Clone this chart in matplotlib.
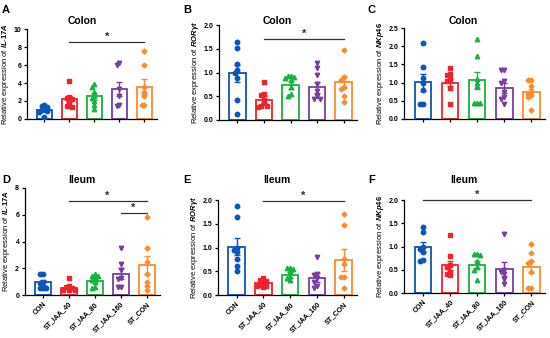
import numpy as np
import matplotlib
matplotlib.use('Agg')
import matplotlib.pyplot as plt

plt.rcParams['font.family'] = ['Liberation Sans', 'DejaVu Sans']
plt.rcParams['font.weight'] = 'bold'
plt.rcParams['mathtext.fontset'] = 'custom'
plt.rcParams['mathtext.it'] = 'Liberation Sans:italic:bold'
plt.rcParams['mathtext.rm'] = 'Liberation Sans:bold'

groups = ['CON', 'ST_IAA_40', 'ST_IAA_80', 'ST_IAA_160', 'ST_CON']
colors = ['#0B55BE', '#F2222C', '#17B23F', '#7A3D9F', '#FF8A2B']
markers = ['o', 's', '^', 'v', 'D']

# Panel A: colon IL-17A
a_pts = [[1.4, 1.3, 1.5, 0.9, 1.0, 0.8, 0.2, 1.1],
         [4.2, 2.4, 2.2, 2.0, 1.5, 1.4, 1.3, 2.3],
         [3.9, 3.6, 3.0, 2.6, 2.3, 2.0, 1.5, 1.1],
         [6.2, 6.0, 3.3, 2.6, 1.5, 1.4],
         [7.6, 6.0, 3.6, 3.0, 2.6, 1.6, 1.5]]
a_mean = [1.0, 2.2, 2.5, 3.35, 3.6]
a_sem = [0.15, 0.3, 0.35, 0.8, 0.8]

# Panel B: colon RORgt
b_pts = [[1.64, 1.52, 1.17, 1.05, 1.0, 0.88, 0.42, 0.13],
         [0.8, 0.55, 0.52, 0.42, 0.35, 0.3, 0.28, 0.3],
         [0.93, 0.92, 0.9, 0.88, 0.85, 0.7, 0.55, 0.5],
         [1.2, 1.1, 0.95, 0.75, 0.6, 0.5, 0.45, 0.45],
         [1.47, 0.9, 0.85, 0.7, 0.65, 0.5, 0.37]]
b_mean = [0.98, 0.43, 0.74, 0.69, 0.8]
b_sem = [0.17, 0.08, 0.08, 0.12, 0.13]

# Panel C: colon NKp46
c_pts = [[2.08, 1.42, 1.12, 0.8, 0.42, 0.42, 1.0],
         [1.4, 1.25, 1.22, 1.1, 1.05, 0.85, 0.42],
         [2.2, 1.73, 1.1, 0.9, 0.45, 0.45, 0.45, 1.0],
         [1.35, 1.35, 1.05, 1.0, 0.75, 0.55, 0.42, 0.6],
         [1.07, 1.07, 0.92, 0.75, 0.7, 0.6, 0.25, 0.65]]
c_mean = [1.01, 1.0, 1.06, 0.85, 0.73]
c_sem = [0.24, 0.1, 0.24, 0.13, 0.1]

# Panel D: ileum IL-17A
d_pts = [[1.6, 1.55, 1.0, 0.9, 0.55, 0.5, 0.55],
         [1.3, 0.7, 0.6, 0.5, 0.4, 0.35, 0.4],
         [1.6, 1.45, 1.4, 1.3, 1.1, 0.95, 0.5, 0.6],
         [3.55, 2.35, 1.9, 1.3, 1.2, 0.6, 0.6],
         [5.8, 3.5, 2.5, 1.6, 1.0, 0.7, 0.4]]
d_mean = [0.95, 0.55, 1.07, 1.6, 2.25]
d_sem = [0.17, 0.1, 0.12, 0.4, 0.65]

# Panel E: ileum RORgt
e_pts = [[1.87, 1.64, 1.0, 0.95, 0.9, 0.75, 0.62, 0.5],
         [0.35, 0.32, 0.3, 0.25, 0.22, 0.2, 0.18, 0.2],
         [0.58, 0.58, 0.55, 0.5, 0.4, 0.35, 0.32],
         [0.8, 0.45, 0.42, 0.35, 0.28, 0.2, 0.15],
         [1.7, 1.47, 0.75, 0.65, 0.38, 0.38, 0.15]]
e_mean = [1.02, 0.25, 0.42, 0.37, 0.74]
e_sem = [0.18, 0.04, 0.06, 0.09, 0.23]

# Panel F: ileum NKp46
f_pts = [[1.43, 1.32, 1.0, 0.95, 0.88, 0.72, 0.7],
         [1.24, 0.8, 0.6, 0.55, 0.45, 0.4, 0.38],
         [0.85, 0.85, 0.82, 0.7, 0.55, 0.5, 0.28],
         [1.26, 0.5, 0.45, 0.4, 0.3, 0.2],
         [1.05, 0.87, 0.7, 0.65, 0.45, 0.1, 0.1]]
f_mean = [0.99, 0.6, 0.61, 0.52, 0.56]
f_sem = [0.11, 0.1, 0.07, 0.15, 0.13]


def swarm_offsets(vals, tol, step=0.11):
    # simple deterministic spread for points with close values
    vals = np.asarray(vals, dtype=float)
    order = np.argsort(-vals)
    offs = np.zeros(len(vals))
    placed = []
    for i in order:
        near = [j for j in placed if abs(vals[j] - vals[i]) < tol]
        cands = [0.0, -step, step, -2 * step, 2 * step, -1.5 * step, 1.5 * step]
        for c in cands:
            if all(abs(offs[j] - c) > step * 0.9 for j in near):
                offs[i] = c
                break
        placed.append(i)
    return offs


def panel(rect, pts, means, sems, ymax, ystep, gene, title, title_y, letter, letter_xy, sigs, labels):
    ax = fig.add_axes(rect)
    x = np.arange(len(groups))
    for i in range(len(groups)):
        ax.bar(x[i], means[i], width=0.62, facecolor='white', edgecolor=colors[i],
               linewidth=1.3, zorder=2)
        ax.errorbar(x[i], means[i], yerr=sems[i], color=colors[i], capsize=2.2,
                    elinewidth=1.0, capthick=1.0, zorder=3)
        offs = swarm_offsets(pts[i], ymax * 0.035)
        ms = 3.2 if markers[i] != 'D' else 2.5
        ax.plot(x[i] + offs, pts[i], linestyle='none', marker=markers[i], color=colors[i],
                markersize=ms, zorder=4)
    ax.set_xlim(-0.7, 4.5)
    ax.set_ylim(0, ymax)
    ticks = np.arange(0, ymax + ystep / 2, ystep)
    ax.set_yticks(ticks)
    if ystep < 1:
        ax.set_yticklabels(['%.1f' % v for v in ticks])
    ax.set_xticks(x)
    if labels:
        ax.set_xticklabels(groups, rotation=45, ha='right', rotation_mode='anchor', fontsize=5)
    else:
        ax.set_xticklabels([])
    ax.spines['top'].set_visible(False)
    ax.spines['right'].set_visible(False)
    for s in ['left', 'bottom']:
        ax.spines[s].set_linewidth(0.9)
    ax.tick_params(axis='both', labelsize=5, width=0.9, length=2.5, pad=1.5)
    ax.set_ylabel('Relative expression of ' + gene, fontsize=5.5, labelpad=2)
    # title and panel letter in figure pixel positions (from top-left)
    cx = rect[0] + rect[2] * (2.2 / 5.2)
    fig.text(cx, 1 - title_y / 338.0, title, ha='center', va='center',
             fontsize=7.5, fontweight='bold')
    fig.text(letter_xy[0] / 550.0, 1 - letter_xy[1] / 338.0, letter, ha='left', va='center',
             fontsize=8, fontweight='bold')
    for (g0, g1, yv) in sigs:
        ax.plot([g0, g1], [yv, yv], color='#333333', linewidth=0.9, clip_on=False)
        ax.text((g0 + g1) / 2, yv, '*', ha='center', va='bottom', fontsize=8,
                fontweight='bold', color='#333333')
    return ax


fig = plt.figure(figsize=(5.5, 3.38), dpi=100)

panel([0.049, 0.648, 0.236, 0.266], a_pts, a_mean, a_sem, 10, 2,
      r'$\it{IL}$-$\it{17A}$', 'Colon', 21, 'A', (2, 10), [(1, 4, 8.6)], False)
panel([0.398, 0.645, 0.251, 0.281], b_pts, b_mean, b_sem, 2.0, 0.5,
      r'$\it{ROR\gamma t}$', 'Colon', 21, 'B', (183, 10), [(1, 4, 1.71)], False)
panel([0.7345, 0.648, 0.256, 0.269], c_pts, c_mean, c_sem, 2.5, 0.5,
      r'$\it{NKp46}$', 'Colon', 21, 'C', (368, 10), [], False)
panel([0.045, 0.127, 0.245, 0.317], d_pts, d_mean, d_sem, 8, 2,
      r'$\it{IL}$-$\it{17A}$', 'Ileum', 180, 'D', (2, 180), [(1, 4, 7.0), (3, 4, 6.15)], True)
panel([0.396, 0.127, 0.253, 0.281], e_pts, e_mean, e_sem, 2.0, 0.5,
      r'$\it{ROR\gamma t}$', 'Ileum', 180, 'E', (183, 180), [(1, 4, 1.98)], True)
panel([0.7345, 0.133, 0.256, 0.275], f_pts, f_mean, f_sem, 2.0, 0.5,
      r'$\it{NKp46}$', 'Ileum', 180, 'F', (368, 180), [(0, 4, 2.0)], True)

fig.savefig('out.png', dpi=100)
